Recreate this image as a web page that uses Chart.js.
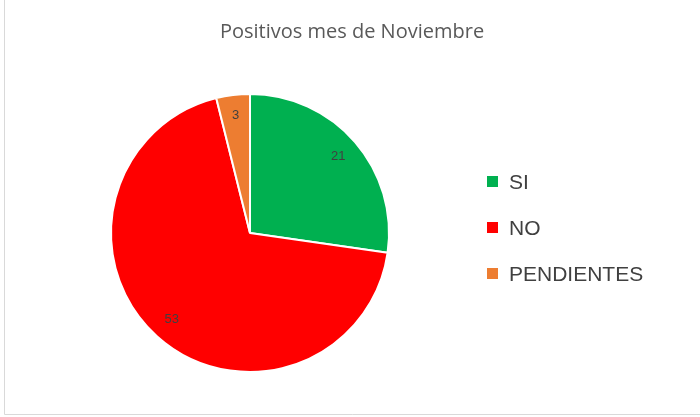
<!DOCTYPE html>
<html><head><meta charset="utf-8">
<script src="https://cdn.jsdelivr.net/npm/chart.js@4"></script>
<style>html,body{margin:0;padding:0;background:#fff;}#w{position:relative;width:700px;height:417px;}</style>
</head><body><div id="w"><canvas id="c" width="700" height="417"></canvas></div>
<script>
const titleText = "Positivos mes de Noviembre";
const categories = ["SI", "NO", "PENDIENTES"];
const values = [21, 53, 3];
const colors = ["#00B050", "#FF0000", "#ED7D31"];

const overlay = {
  id: 'overlay',
  afterDraw(chart) {
    const ctx = chart.ctx;
    ctx.save();
    ctx.fillStyle = '#595959';
    ctx.font = '20px "Open Sans", "Liberation Sans", sans-serif';
    ctx.textAlign = 'center'; ctx.textBaseline = 'middle';
    ctx.fillText(titleText, 352, 32);
    // data labels
    const meta = chart.getDatasetMeta(0);
    ctx.font = '13px "Liberation Sans", sans-serif';
    ctx.fillStyle = '#404040';
    meta.data.forEach((arc, i) => {
      const mid = (arc.startAngle + arc.endAngle) / 2;
      const r = arc.outerRadius * (i === 2 ? 0.85 : 0.84);
      ctx.fillText(String(values[i]), arc.x + Math.cos(mid) * r, arc.y + Math.sin(mid) * r);
    });
    // legend
    ctx.font = '21px "Liberation Sans", Arial, sans-serif';
    ctx.textAlign = 'left';
    categories.forEach((c, i) => {
      const y = 182 + i * 46;
      ctx.fillStyle = colors[i];
      ctx.fillRect(487, y - 6, 11, 11);
      ctx.fillStyle = '#404040';
      ctx.fillText(c, 509, y + 1);
    });
    // faint frame
    ctx.strokeStyle = '#d9d9d9'; ctx.lineWidth = 1;
    ctx.beginPath(); ctx.moveTo(4.5, 0); ctx.lineTo(4.5, 414.5); ctx.lineTo(700, 414.5); ctx.stroke();
    ctx.restore();
  }
};

new Chart(document.getElementById('c'), {
  type: 'pie',
  data: { labels: categories, datasets: [{ data: values, backgroundColor: colors, borderColor: '#fff', borderWidth: 2 }] },
  options: {
    responsive: false, animation: false,
    layout: { padding: { left: 110, right: 310, top: 93, bottom: 44 } },
    plugins: { legend: { display: false }, title: { display: false }, tooltip: { enabled: false } }
  },
  plugins: [overlay]
});
</script></body></html>
